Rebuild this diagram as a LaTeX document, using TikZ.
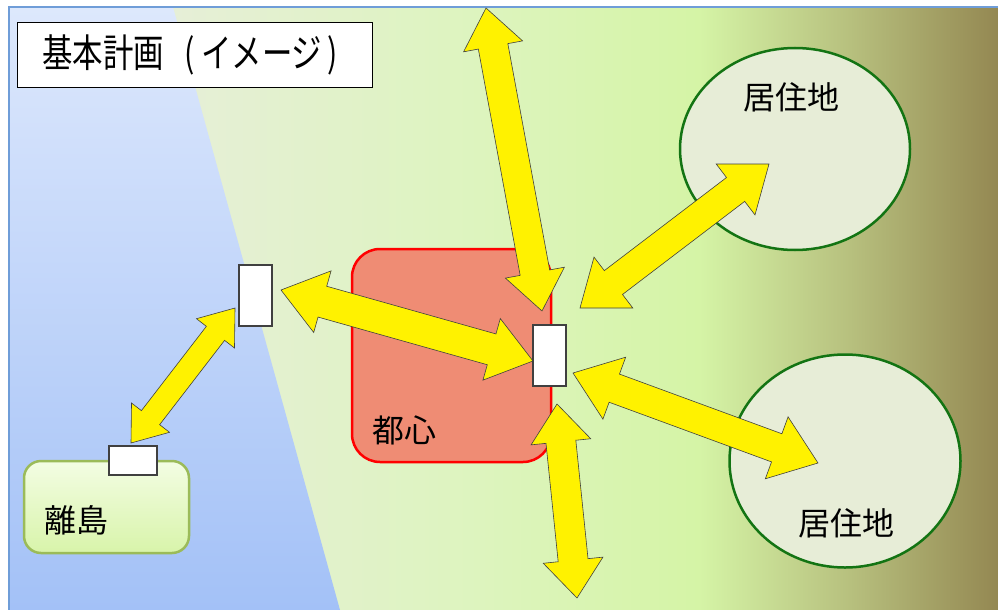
\documentclass[tikz,border=0pt]{standalone}
\usepackage{fontspec}
\newfontfamily\jp{Noto Sans CJK JP}
\newfontfamily\jpt[FakeStretch=0.78]{Noto Sans CJK JP}
\usetikzlibrary{calc,shapes.geometric}
\definecolor{gA}{HTML}{E6EFD7}
\definecolor{gB}{HTML}{DDF4BE}
\definecolor{gC}{HTML}{D5F4A6}
\definecolor{gD}{HTML}{B7C07E}
\definecolor{gE}{HTML}{948852}
\definecolor{blueTop}{HTML}{DDE8FC}
\definecolor{blueBot}{HTML}{A3C1F7}
\definecolor{frameBlue}{HTML}{6F9DD8}
\definecolor{cityFill}{HTML}{EF8C74}
\definecolor{resFill}{HTML}{E7EDD7}
\definecolor{resLine}{HTML}{137413}
\definecolor{isleLine}{HTML}{9BBB59}
\definecolor{isleTop}{HTML}{F3FDE3}
\definecolor{isleBot}{HTML}{D8F4AA}
\pgfdeclarehorizontalshading{greenbg}{100bp}{color(0bp)=(gA); color(33.4bp)=(gA); color(48.8bp)=(gB); color(59.9bp)=(gC); color(67.5bp)=(gD); color(75bp)=(gE); color(100bp)=(gE)}
\tikzset{
  arrowsty/.style={fill=yellow, draw=black!75, line width=0.6pt, line join=miter},
  portbox/.style={draw=black!75, fill=white, line width=1.2pt, inner sep=0pt},
  jptext/.style={font=\jp\fontsize{32}{32}\selectfont, inner sep=0pt},
  resarea/.style={ellipse, draw=resLine, fill=resFill, line width=2.5pt, inner sep=0pt},
}
\newcommand\dblarrow[5]{%
  \coordinate (da1) at ($(#1)!#5!(#2)$);
  \coordinate (da2) at ($(#2)!#5!(#1)$);
  \draw[arrowsty] (#1) -- ($(da1)!#4!-90:(#2)$) -- ($(da1)!#3!-90:(#2)$)
    -- ($(da2)!#3!90:(#1)$) -- ($(da2)!#4!90:(#1)$) -- (#2)
    -- ($(da2)!#4!-90:(#1)$) -- ($(da2)!#3!-90:(#1)$)
    -- ($(da1)!#3!90:(#2)$) -- ($(da1)!#4!90:(#2)$) -- cycle;
}
\begin{document}
\begin{tikzpicture}[x=1pt,y=-1pt]
\useasboundingbox (0,0) rectangle (998,610);
% background
\shade[shading=greenbg] (9,7) rectangle (998,610);
\shade[top color=blueTop, bottom color=blueBot] (9,7) -- (173,7) -- (340,610) -- (9,610) -- cycle;
\draw[frameBlue, line width=2pt] (9,610) -- (9,7) -- (998,7);
% title
\node[draw=black, line width=1.6pt, fill=white, minimum width=355, minimum height=65, inner sep=0pt] (titlebox) at (195,55) {};
\node[font=\jpt\fontsize{39}{39}\selectfont, inner sep=0pt] (title) at (190,55) {基本計画\hspace{20pt}(\hspace{7pt}イメージ\hspace{5pt})};
% areas
\node[resarea, minimum width=230, minimum height=202] (res1) at (795,149) {};
\node[resarea, minimum width=231, minimum height=213] (res2) at (845,461) {};
\node[draw=red, fill=cityFill, line width=2.5pt, rounded corners=28pt, minimum width=199, minimum height=213, inner sep=0pt] (city) at (451.5,355.5) {};
\node[draw=isleLine, top color=isleTop, bottom color=isleBot, line width=2.5pt, rounded corners=17pt, minimum width=165, minimum height=92, inner sep=0pt] (isle) at (106.5,507) {};
% labels
\node[jptext] (res1label) at (791,97) {居住地};
\node[jptext] (res2label) at (846,523) {居住地};
\node[jptext] (citylabel) at (404,430) {都心};
\node[jptext] (islelabel) at (76,520) {離島};
% arrow tips
\coordinate (t1a) at (131,443);
\coordinate (t1b) at (235,308);
\coordinate (t2a) at (281,290);
\coordinate (t2b) at (533,361);
\coordinate (t3a) at (486,8);
\coordinate (t3b) at (542,311);
\coordinate (t4a) at (580,308);
\coordinate (t4b) at (769,164);
\coordinate (t5a) at (573,373);
\coordinate (t5b) at (818,463);
\coordinate (t6a) at (557,404);
\coordinate (t6b) at (577,598);
\dblarrow{t1a}{t1b}{11.5pt}{24pt}{32pt}
\dblarrow{t2a}{t2b}{16pt}{32pt}{43pt}
\dblarrow{t3a}{t3b}{15pt}{30pt}{39pt}
\dblarrow{t4a}{t4b}{15pt}{32pt}{42pt}
\dblarrow{t5a}{t5b}{15pt}{33pt}{44pt}
\dblarrow{t6a}{t6b}{15pt}{30pt}{38pt}
% ports
\node[portbox, minimum width=33, minimum height=61] (portL) at (255.5,295.5) {};
\node[portbox, minimum width=33, minimum height=61] (portC) at (549.5,355.5) {};
\node[portbox, minimum width=48, minimum height=29] (portI) at (133,460.5) {};
\end{tikzpicture}
\end{document}
